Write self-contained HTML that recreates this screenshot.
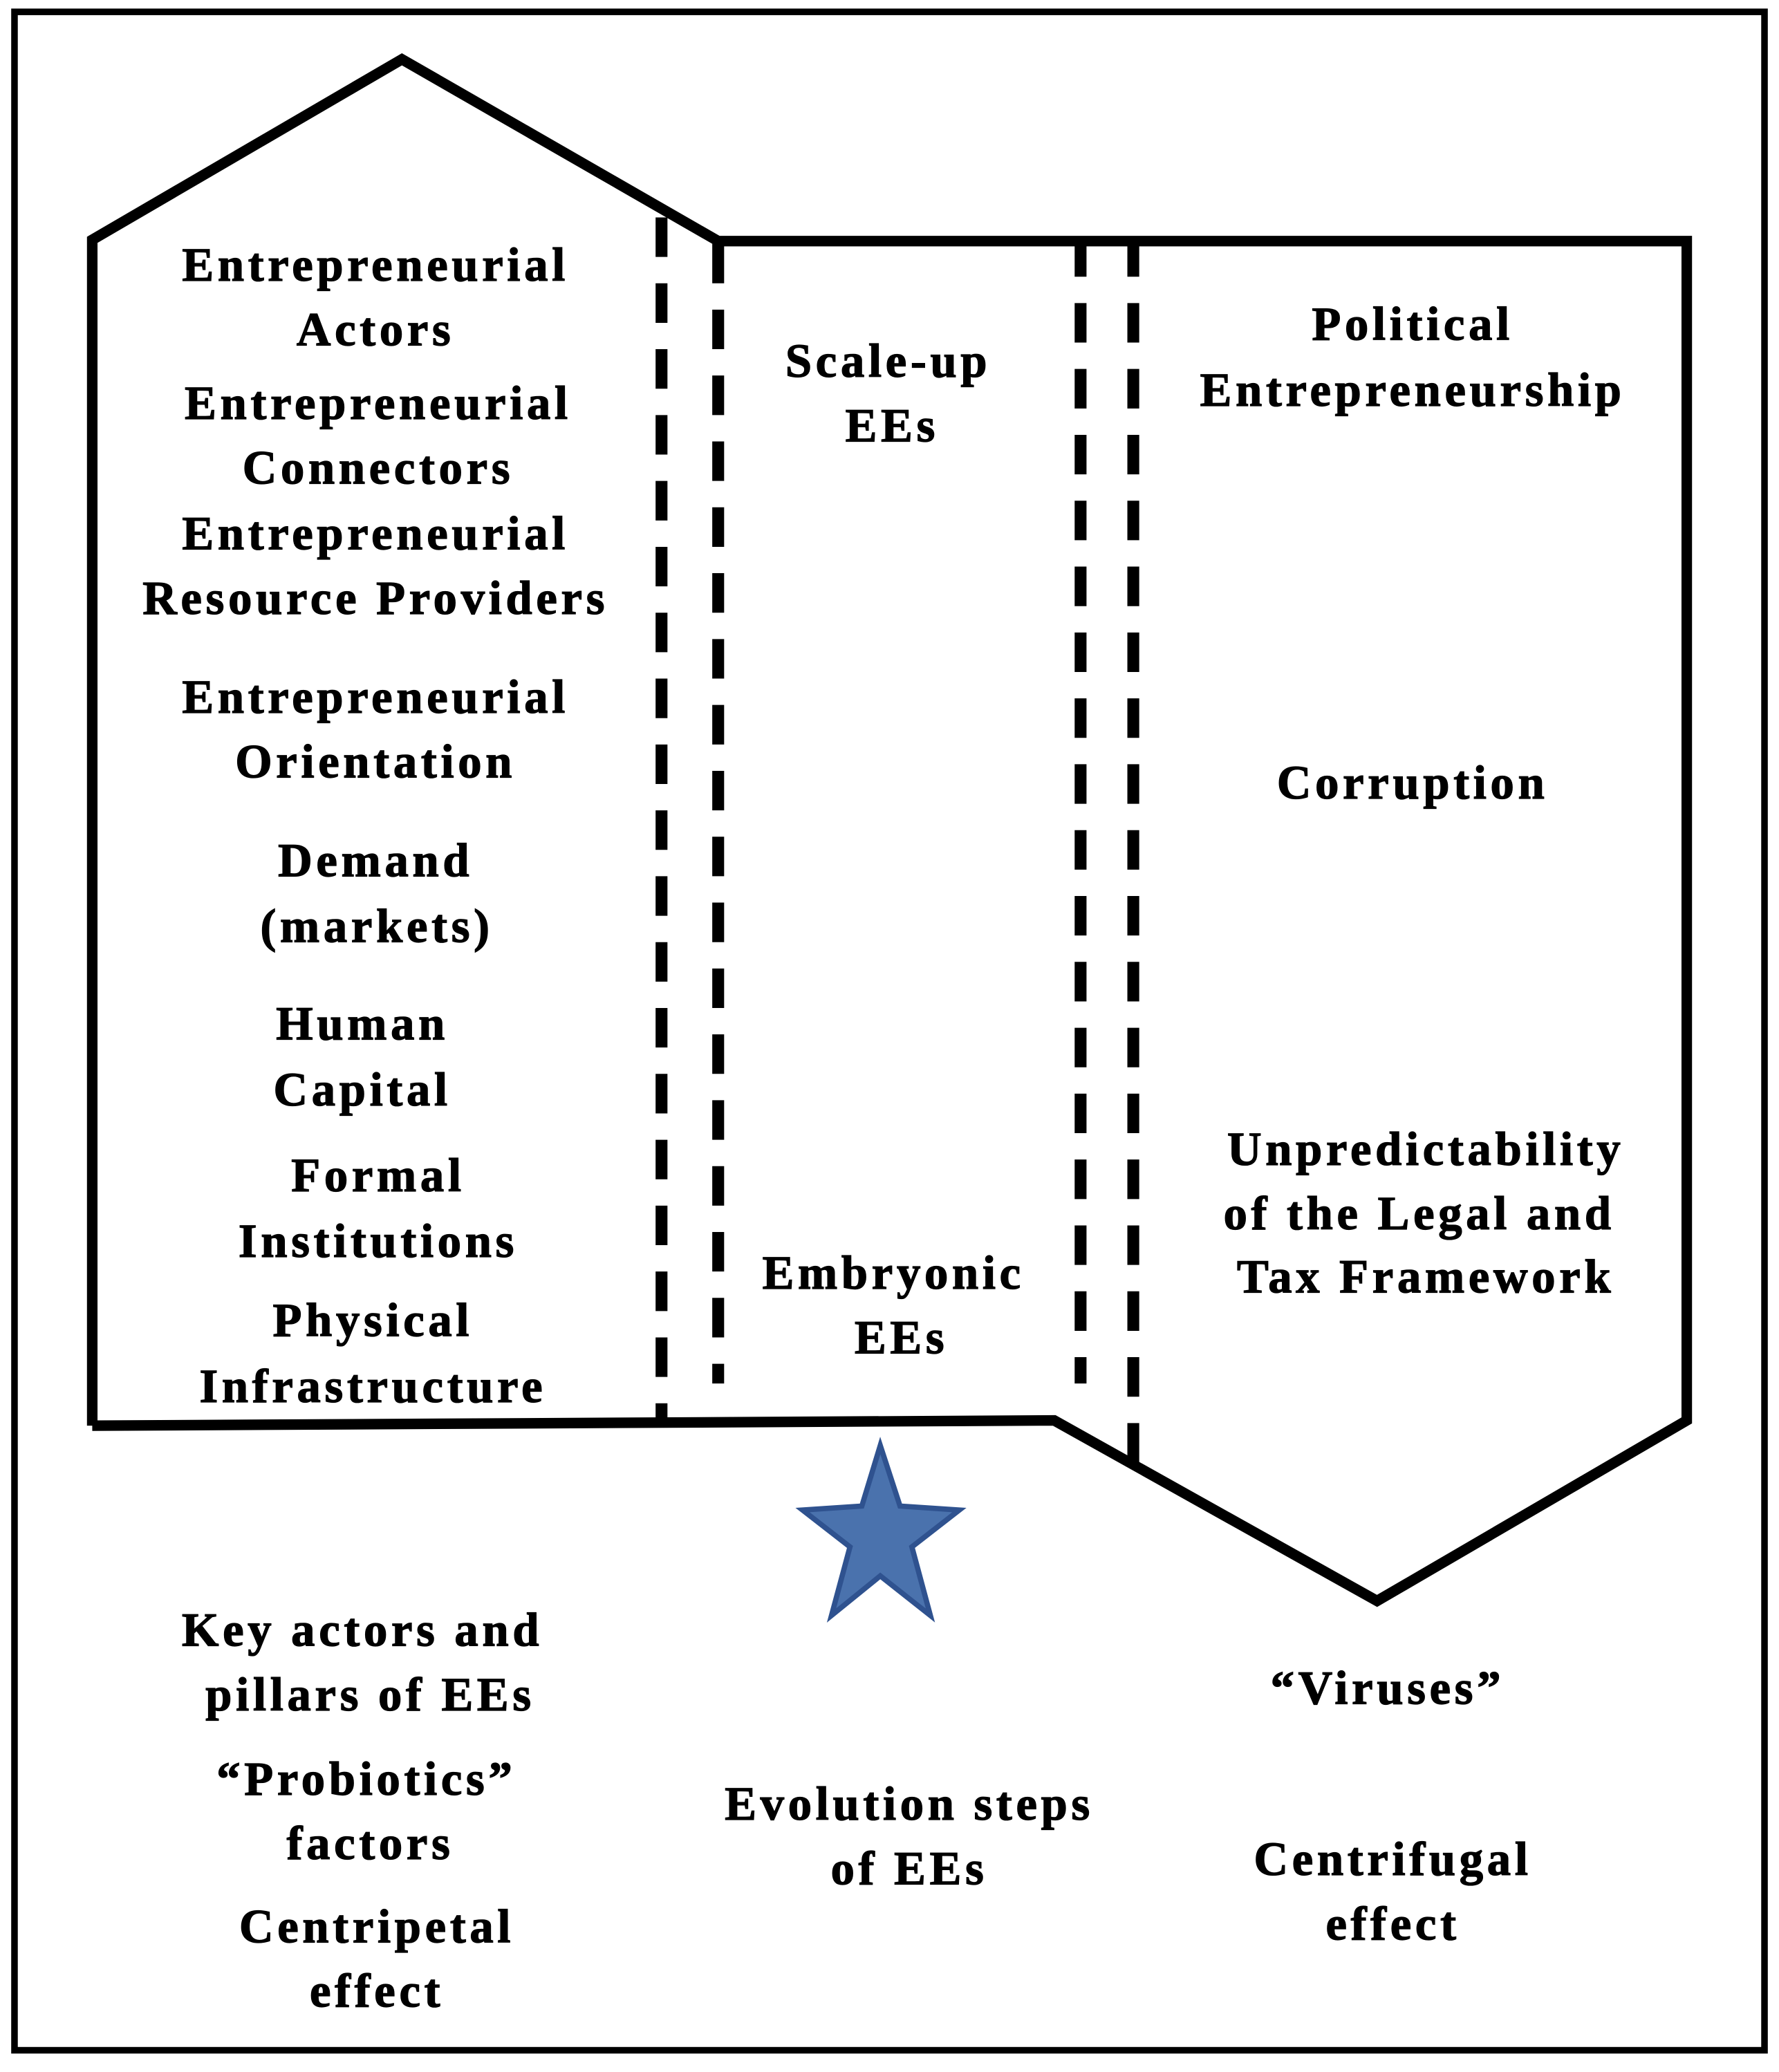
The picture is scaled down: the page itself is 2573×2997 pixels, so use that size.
<!DOCTYPE html>
<html><head><meta charset="utf-8"><style>html,body{margin:0;padding:0;background:#fff}svg{display:block}</style></head>
<body>
<svg width="2573" height="2997" viewBox="0 0 1350 1572.5" preserveAspectRatio="none" xmlns="http://www.w3.org/2000/svg">
<rect x="0" y="0" width="1350" height="1572.5" fill="#fff"/>
<rect x="11" y="9" width="1328" height="1547" fill="none" stroke="#000" stroke-width="5"/>
<polyline points="70,1082 70,182 305,45 545,183 1280,183 1280,1078 1045,1215 800,1078 70,1082" fill="none" stroke="#000" stroke-width="8" stroke-linejoin="miter"/>
<g stroke="#000" stroke-width="9" stroke-dasharray="30,20">
<line x1="502" y1="165" x2="502" y2="1080"/>
<line x1="545" y1="185" x2="545" y2="1050"/>
<line x1="820" y1="180" x2="820" y2="1050"/>
<line x1="860" y1="180" x2="860" y2="1110"/>
</g>
<polygon points="668,1097 683,1143 728,1146 692,1174 706,1226 668,1196 631,1226 645,1174 609,1146 654,1143" fill="#4a72ad" stroke="#2f528f" stroke-width="4" stroke-linejoin="miter"/>
<g font-family="Liberation Serif, serif" font-weight="bold" font-size="36" text-anchor="middle" fill="#000" stroke="#000" stroke-width="0.7" letter-spacing="3">
<text x="285" y="213">Entrepreneurial</text>
<text x="285" y="262">Actors</text>
<text x="287" y="318">Entrepreneurial</text>
<text x="287" y="367">Connectors</text>
<text x="285" y="417">Entrepreneurial</text>
<text x="285" y="466">Resource Providers</text>
<text x="285" y="541">Entrepreneurial</text>
<text x="285" y="590">Orientation</text>
<text x="285" y="665">Demand</text>
<text x="286" y="715">(markets)</text>
<text x="275" y="789">Human</text>
<text x="275" y="839">Capital</text>
<text x="287" y="904">Formal</text>
<text x="287" y="954">Institutions</text>
<text x="283" y="1014">Physical</text>
<text x="283" y="1064">Infrastructure</text>
<text x="674" y="286">Scale-up</text>
<text x="677" y="335">EEs</text>
<text x="678" y="978">Embryonic</text>
<text x="684" y="1027">EEs</text>
<text x="1072" y="258">Political</text>
<text x="1072" y="308">Entrepreneurship</text>
<text x="1072" y="606">Corruption</text>
<text x="1082" y="884">Unpredictability</text>
<text x="1077" y="933">of the Legal and</text>
<text x="1082" y="981">Tax Framework</text>
<text x="275" y="1249">Key actors and</text>
<text x="281" y="1298">pillars of  EEs</text>
<text x="278" y="1362">“Probiotics”</text>
<text x="281" y="1411">factors</text>
<text x="286" y="1474">Centripetal</text>
<text x="286" y="1523">effect</text>
<text x="690" y="1381">Evolution steps</text>
<text x="690" y="1430">of  EEs</text>
<text x="1053" y="1293">“Viruses”</text>
<text x="1057" y="1423">Centrifugal</text>
<text x="1057" y="1472">effect</text>
</g>
</svg>
</body></html>
